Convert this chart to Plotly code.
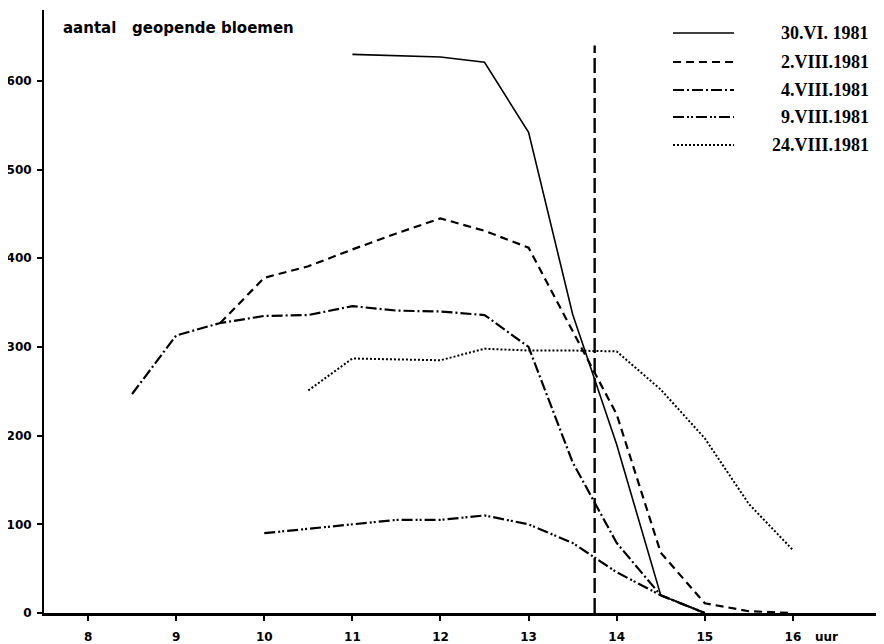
import plotly.graph_objects as go

# ---- data (hour of day, number of open flowers) ----
hours_30vi = [11, 12, 12.5, 13, 13.5, 14, 14.5, 15]
vals_30vi = [630, 627, 621, 542, 337, 190, 20, 0]

hours_2viii = [9.5, 10, 10.5, 11, 11.5, 12, 12.5, 13, 13.5, 14, 14.5, 15, 15.5, 16]
vals_2viii = [327, 378, 391, 410, 428, 445, 431, 412, 318, 224, 68, 11, 2, 0]

hours_4viii = [8.5, 9, 9.5, 10, 10.5, 11, 11.5, 12, 12.5, 13, 13.5, 14, 14.5, 15]
vals_4viii = [247, 313, 327, 335, 336, 346, 341, 340, 336, 300, 170, 79, 20, 0]

hours_9viii = [10, 10.5, 11, 11.5, 12, 12.5, 13, 13.5, 14, 14.5, 15]
vals_9viii = [90, 95, 100, 105, 105, 110, 100, 79, 46, 20, 0]

hours_24viii = [10.5, 11, 11.5, 12, 12.5, 13, 13.5, 14, 14.5, 15, 15.5, 16]
vals_24viii = [251, 287, 286, 285, 298, 296, 296, 295, 252, 197, 123, 71]

series_labels = ["30.VI. 1981", "2.VIII.1981", "4.VIII.1981", "9.VIII.1981", "24.VIII.1981"]
marker_time = 13.75
x_ticks = [8, 9, 10, 11, 12, 13, 14, 15, 16]
y_ticks = [0, 100, 200, 300, 400, 500, 600]

styles = [
    dict(dash="solid", width=1.6),
    dict(dash="8px,5px", width=2.2),
    dict(dash="11px,3px,2px,3px", width=2.2),
    dict(dash="11px,3px,2px,2px,2px,3px", width=2.2),
    dict(dash="2px,2px", width=2.0),
]

data = [
    (hours_30vi, vals_30vi),
    (hours_2viii, vals_2viii),
    (hours_4viii, vals_4viii),
    (hours_9viii, vals_9viii),
    (hours_24viii, vals_24viii),
]

fig = go.Figure()
for (xs, ys), lab, st in zip(data, series_labels, styles):
    fig.add_trace(go.Scatter(x=xs, y=ys, mode="lines", name=lab,
                             line=dict(color="black", **st), showlegend=False))

# vertical marker line
fig.add_shape(type="line", xref="x", yref="y", x0=marker_time, x1=marker_time,
              y0=0, y1=640, line=dict(color="black", width=2.4, dash="15px,5px"))

# page has an 8px body margin; figure drawn from (8,8)
OFF = 8
FIG_W, FIG_H = 876, 636
# plot area in page pixels
L, R, T, B = 44, 881, 10, 613
W, H = R - L, B - T
def px(x):
    return (x - L) / W
def py(y):
    return (B - y) / H

# custom legend
rows = [33, 62, 90, 117, 145]
for lab, st, ry in zip(series_labels, styles, rows):
    fig.add_shape(type="line", xref="paper", yref="paper",
                  x0=px(673), x1=px(734), y0=py(ry), y1=py(ry),
                  line=dict(color="black", width=st["width"], dash=st["dash"]))
    fig.add_annotation(xref="paper", yref="paper", x=px(871), y=py(ry),
                       text=lab, showarrow=False, xanchor="right", yanchor="middle",
                       font=dict(family="Liberation Serif", size=18, color="black",
                                 weight="bold"))

# y-axis caption
fig.add_annotation(xref="paper", yref="paper", x=px(61), y=py(28),
                   text="aantal&nbsp;&nbsp;&nbsp;geopende bloemen", showarrow=False,
                   xanchor="left", yanchor="middle",
                   font=dict(family="DejaVu Sans", size=15, color="black",
                             weight="bold"))
# x-axis unit
fig.add_annotation(xref="paper", yref="paper", x=px(813), y=py(637),
                   text="uur", showarrow=False, xanchor="left", yanchor="middle",
                   font=dict(family="DejaVu Sans", size=12, color="black",
                             weight="bold"))

tickfont = dict(family="DejaVu Sans", size=12, color="black", weight="bold")
fig.update_layout(
    width=FIG_W, height=FIG_H,
    margin=dict(l=L - OFF, r=FIG_W - (R - OFF), t=T - OFF, b=FIG_H - (B - OFF)),
    paper_bgcolor="white", plot_bgcolor="white",
    xaxis=dict(range=[7.5, 17], tickvals=x_ticks, ticktext=[str(v) for v in x_ticks],
               showgrid=False, zeroline=False, showline=True, linecolor="black",
               linewidth=3, ticks="outside", ticklen=5, tickwidth=2, tickcolor="black",
               ticklabelstandoff=6, tickfont=tickfont, automargin=False),
    yaxis=dict(range=[0, 680], tickvals=y_ticks, ticktext=[str(v) for v in y_ticks],
               showgrid=False, zeroline=False, showline=True, linecolor="black",
               linewidth=2, ticks="outside", ticklen=5, tickwidth=2, tickcolor="black",
               ticklabelstandoff=3, automargin=False, tickfont=tickfont),
)

fig.write_html("out.html")
